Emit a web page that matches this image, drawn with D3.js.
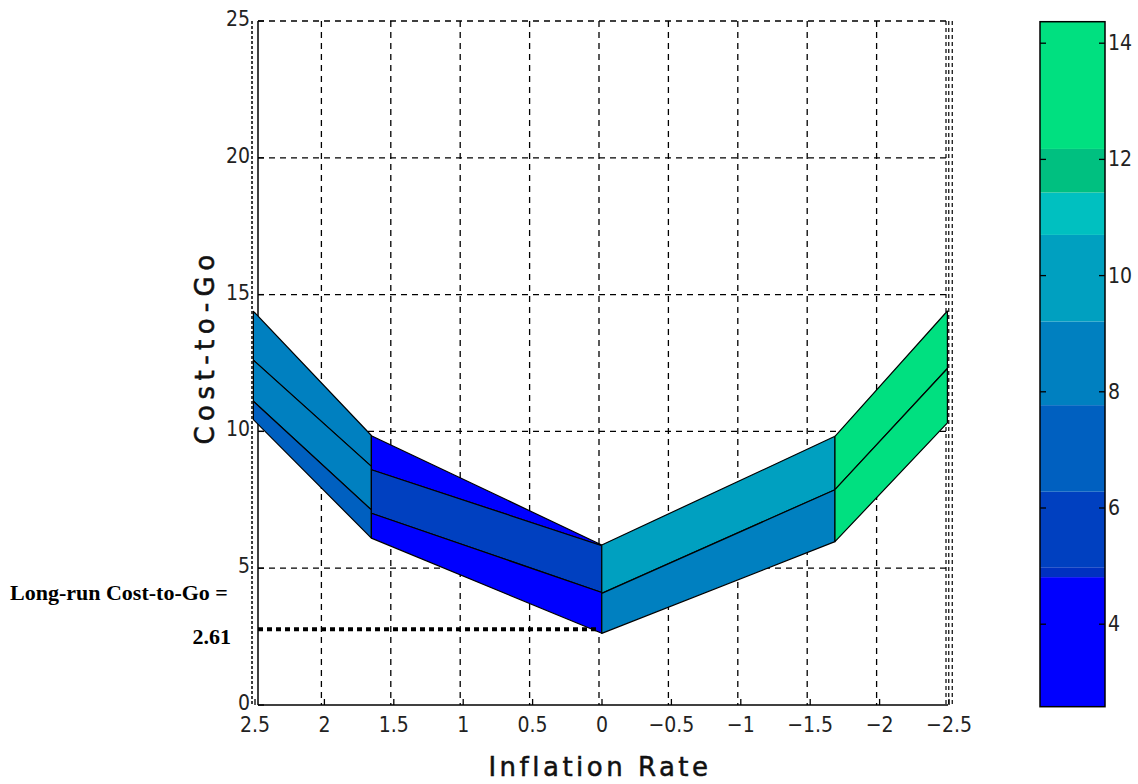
<!DOCTYPE html>
<html>
<head>
<meta charset="utf-8">
<script src="https://cdn.jsdelivr.net/npm/d3@7"></script>
<style>
body { margin: 0; background: #fff; }
</style>
</head>
<body>
<div id="chart"></div>
<script>

var xTicks = [2.5, 2, 1.5, 1, 0.5, 0, -0.5, -1, -1.5, -2, -2.5];
var xTickLabels = ["2.5", "2", "1.5", "1", "0.5", "0", "\u22120.5", "\u22121", "\u22121.5", "\u22122", "\u22122.5"];
var yTicks = [0, 5, 10, 15, 20, 25];
var cbTicks = [4, 6, 8, 10, 12, 14];

// surface: each column spans two x knots, lines are [left, right] heights top to bottom
var columnX = [[2.49, 1.64], [1.64, -0.02], [-0.02, -1.70], [-1.70, -2.51]];
var columnLines = [
	[[14.39, 9.85], [12.60, 8.72], [11.10, 7.13], [10.43, 6.10]],
	[[9.84, 5.85], [8.60, 5.82], [7.01, 4.11], [6.10, 2.62]],
	[[5.85, 9.82], [4.08, 7.87], [2.62, 5.97]],
	[[9.82, 14.40], [7.87, 12.30], [5.97, 10.31]]
];
var patchValues = [
	[8.5, 8.5, 7.0],
	[3.6, 5.6, 3.6],
	[10.0, 8.5],
	[13.3, 13.3]
];

var colorBreaks = [4.81, 4.98, 6.28, 7.77, 9.21, 10.70, 11.43, 12.18];
var colorList = ["#0000ff", "#0030c0", "#0040c0", "#0060c0", "#0080c0", "#00a0c0", "#00c0c0", "#00c080", "#00e080"];
var cbRange = [2.58, 14.37];

var longRunLevel = 2.77;
var longRunText = "2.61";

var W = 1138, H = 784;
var tickFont = "'Liberation Sans Narrow', 'DejaVu Sans Condensed', sans-serif";
var titleFont = "'DejaVu Sans', sans-serif";
var noteFont = "'Liberation Serif', 'DejaVu Serif', serif";

var x = d3.scaleLinear().domain([2.5, -2.5]).range([252, 946]);
var y = d3.scaleLinear().domain([0, 25]).range([705, 21]);
var color = d3.scaleThreshold().domain(colorBreaks).range(colorList);
var cy = d3.scaleLinear().domain(cbRange).range([706.7, 21.7]);

var svg = d3.select("#chart")
	.append("svg")
	.attr("width", W)
	.attr("height", H)
	.style("display", "block")
	.style("background", "#fff");

var axisX = x(2.5) + 6;

// grid
svg.append("g").selectAll("line")
	.data(yTicks.filter(function(d) { return d > 0; }))
	.enter().append("line")
	.attr("x1", axisX).attr("x2", x(-2.5))
	.attr("y1", function(d) { return y(d); })
	.attr("y2", function(d) { return y(d); })
	.style("stroke", "#000")
	.style("stroke-width", 1.3)
	.style("stroke-dasharray", "6,5");

svg.append("g").selectAll("line")
	.data(xTicks.slice(1, -1))
	.enter().append("line")
	.attr("x1", function(d) { return x(d); })
	.attr("x2", function(d) { return x(d); })
	.attr("y1", y(25)).attr("y2", y(0))
	.style("stroke", "#000")
	.style("stroke-width", 1.3)
	.style("stroke-dasharray", "6,5");

// back edges (dotted)
svg.append("line")
	.attr("x1", x(2.5)).attr("x2", x(2.5))
	.attr("y1", y(25)).attr("y2", y(0))
	.style("stroke", "#000").style("stroke-width", 1.5)
	.style("stroke-dasharray", "3,2");

[-2.5, -2.52, -2.545].forEach(function(v) {
	svg.append("line")
		.attr("x1", x(v)).attr("x2", x(v))
		.attr("y1", y(25)).attr("y2", y(0))
		.style("stroke", "#000").style("stroke-width", 1.2)
		.style("stroke-dasharray", "4,3");
});

// axes
svg.append("line")
	.attr("x1", axisX).attr("x2", axisX)
	.attr("y1", y(25)).attr("y2", y(0))
	.style("stroke", "#000").style("stroke-width", 1.5);
svg.append("line")
	.attr("x1", axisX).attr("x2", x(-2.5) + 2)
	.attr("y1", y(0)).attr("y2", y(0))
	.style("stroke", "#000").style("stroke-width", 1.5);

svg.append("g").selectAll("line")
	.data(yTicks)
	.enter().append("line")
	.attr("x1", axisX).attr("x2", axisX + 6)
	.attr("y1", function(d) { return y(d); })
	.attr("y2", function(d) { return y(d); })
	.style("stroke", "#000").style("stroke-width", 1.3);

svg.append("g").selectAll("line")
	.data(xTicks)
	.enter().append("line")
	.attr("x1", function(d) { return x(d) + 3; })
	.attr("x2", function(d) { return x(d) + 3; })
	.attr("y1", y(0)).attr("y2", y(0) - 6)
	.style("stroke", "#000").style("stroke-width", 1.3);

svg.append("g").selectAll("text")
	.data(yTicks)
	.enter().append("text")
	.attr("x", x(2.5) - 2)
	.attr("y", function(d) { return y(d) + 5; })
	.attr("text-anchor", "end")
	.style("font-family", tickFont)
	.style("font-size", "21px")
	.style("fill", "#222")
	.text(function(d) { return d; });

svg.append("g").selectAll("text")
	.data(xTicks)
	.enter().append("text")
	.attr("x", function(d) { return x(d) + 3; })
	.attr("y", y(0) + 27)
	.attr("text-anchor", "middle")
	.style("font-family", tickFont)
	.style("font-size", "21px")
	.style("fill", "#222")
	.text(function(d, i) { return xTickLabels[i]; });

// surface patches
var patches = [];
columnX.forEach(function(cx, c) {
	var lines = columnLines[c];
	for (var i = 0; i < lines.length - 1; i++) {
		patches.push({
			pts: [[cx[0], lines[i][0]], [cx[1], lines[i][1]], [cx[1], lines[i + 1][1]], [cx[0], lines[i + 1][0]]],
			value: patchValues[c][i]
		});
	}
});

svg.append("g").selectAll("path")
	.data(patches)
	.enter().append("path")
	.attr("d", function(d) {
		return "M" + d.pts.map(function(p) { return x(p[0]) + "," + y(p[1]); }).join("L") + "Z";
	})
	.style("fill", function(d) { return color(d.value); })
	.style("stroke", "#000")
	.style("stroke-width", 1.2)
	.style("stroke-linejoin", "round");

// long-run marker
svg.append("line")
	.attr("x1", axisX).attr("x2", x(0))
	.attr("y1", y(longRunLevel)).attr("y2", y(longRunLevel))
	.style("stroke", "#000")
	.style("stroke-width", 4)
	.style("stroke-dasharray", "5,4");

svg.append("text")
	.attr("x", 10).attr("y", 600)
	.style("font-family", noteFont)
	.style("font-weight", "bold")
	.style("font-size", "22px")
	.text("Long-run Cost-to-Go =");
svg.append("text")
	.attr("x", 231).attr("y", 644)
	.attr("text-anchor", "end")
	.style("font-family", noteFont)
	.style("font-weight", "bold")
	.style("font-size", "22px")
	.text(longRunText);

// titles
svg.append("text")
	.attr("x", 600).attr("y", 776)
	.attr("text-anchor", "middle")
	.style("font-family", titleFont)
	.style("font-size", "26px")
	.style("letter-spacing", "3.5px")
	.style("fill", "#111")
	.style("stroke", "#111")
	.style("stroke-width", 0.5)
	.text("Inflation Rate");
svg.append("text")
	.attr("transform", "translate(214,347) rotate(-90)")
	.attr("text-anchor", "middle")
	.style("font-family", titleFont)
	.style("font-size", "26px")
	.style("letter-spacing", "5.5px")
	.style("fill", "#111")
	.style("stroke", "#111")
	.style("stroke-width", 0.6)
	.text("Cost-to-Go");

// colorbar
var cbX = 1040, cbW = 65;
var bands = colorList.map(function(col, i) {
	var lo = i === 0 ? cbRange[0] : colorBreaks[i - 1];
	var hi = i === colorList.length - 1 ? cbRange[1] : colorBreaks[i];
	return { lo: lo, hi: hi, color: col };
});

svg.append("g").selectAll("rect")
	.data(bands)
	.enter().append("rect")
	.attr("x", cbX)
	.attr("width", cbW)
	.attr("y", function(d) { return cy(d.hi); })
	.attr("height", function(d) { return cy(d.lo) - cy(d.hi); })
	.style("fill", function(d) { return d.color; });

svg.append("rect")
	.attr("x", cbX).attr("y", cy(cbRange[1]))
	.attr("width", cbW).attr("height", cy(cbRange[0]) - cy(cbRange[1]))
	.style("fill", "none")
	.style("stroke", "#000")
	.style("stroke-width", 1.5);

var cbTickG = svg.append("g").selectAll("g")
	.data(cbTicks)
	.enter().append("g");
cbTickG.append("line")
	.attr("x1", cbX).attr("x2", cbX + 6)
	.attr("y1", function(d) { return cy(d); })
	.attr("y2", function(d) { return cy(d); })
	.style("stroke", "#000").style("stroke-width", 1.3);
cbTickG.append("line")
	.attr("x1", cbX + cbW - 6).attr("x2", cbX + cbW)
	.attr("y1", function(d) { return cy(d); })
	.attr("y2", function(d) { return cy(d); })
	.style("stroke", "#000").style("stroke-width", 1.3);
cbTickG.append("text")
	.attr("x", cbX + cbW + 3)
	.attr("y", function(d) { return cy(d) + 7; })
	.style("font-family", tickFont)
	.style("font-size", "21px")
	.style("fill", "#222")
	.text(function(d) { return d; });

</script>
</body>
</html>
